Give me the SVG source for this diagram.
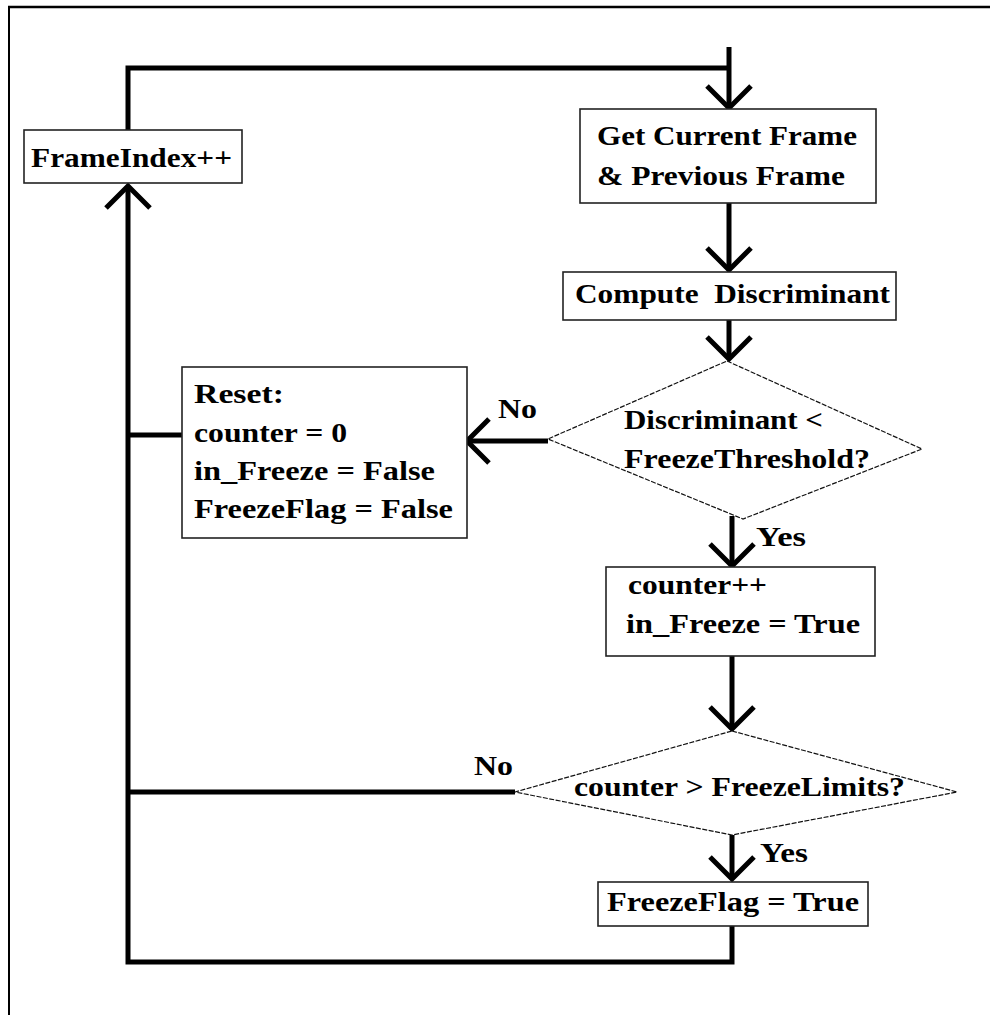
<svg xmlns="http://www.w3.org/2000/svg" width="990" height="1015" viewBox="0 0 990 1015">
  <defs>
    <style>
      .box { fill: #fff; stroke: #222; stroke-width: 1.6; }
      .dec { fill: #fff; stroke: #111; stroke-width: 1.2; stroke-dasharray: 5 1.5; }
      .wire { fill: none; stroke: #000; stroke-width: 5; stroke-linejoin: miter; }
      .lbl { font-family: "Liberation Serif", "Times New Roman", serif; font-weight: bold; font-size: 27px; fill: #000; white-space: pre; }
    </style>
    <marker id="chev" viewBox="-26 -26 32 52" refX="0" refY="0" markerWidth="32" markerHeight="52" markerUnits="userSpaceOnUse" orient="auto">
      <path d="M-22,-22 L0,0 L-22,22" fill="none" stroke="#000" stroke-width="5"/>
    </marker>
  </defs>

  <rect width="990" height="1015" fill="#fff"/>
  <!-- frame edges -->
  <line x1="8" y1="7" x2="990" y2="7" stroke="#000" stroke-width="2.5"/>
  <line x1="9" y1="6" x2="9" y2="1015" stroke="#000" stroke-width="2"/>

  <!-- connectors -->
  <g id="connectors" class="wire">
    <polyline points="128,130 128,68 729,68"/>
    <line x1="729" y1="47" x2="729" y2="108" marker-end="url(#chev)"/>
    <line x1="729" y1="203" x2="729" y2="270" marker-end="url(#chev)"/>
    <line x1="729" y1="320" x2="729" y2="359" marker-end="url(#chev)"/>
    <line x1="548" y1="441" x2="467" y2="441" marker-end="url(#chev)"/>
    <line x1="182" y1="435" x2="128" y2="435"/>
    <line x1="732" y1="516" x2="732" y2="566" marker-end="url(#chev)"/>
    <line x1="732" y1="656" x2="732" y2="729" marker-end="url(#chev)"/>
    <line x1="515" y1="792" x2="128" y2="792"/>
    <line x1="732" y1="835" x2="732" y2="879" marker-end="url(#chev)"/>
    <polyline points="732,926 732,962 128,962 128,186" marker-end="url(#chev)"/>
  </g>

  <g id="frame-index">
    <rect class="box" x="24" y="130" width="218" height="53"/>
    <text class="lbl" x="31" y="167" textLength="201" lengthAdjust="spacingAndGlyphs">FrameIndex++</text>
  </g>

  <g id="get-frames">
    <rect class="box" x="580" y="109" width="296" height="94"/>
    <text class="lbl" x="597" y="145" textLength="260" lengthAdjust="spacingAndGlyphs">Get Current Frame</text>
    <text class="lbl" x="597" y="185" textLength="248" lengthAdjust="spacingAndGlyphs">&amp; Previous Frame</text>
  </g>

  <g id="compute">
    <rect class="box" x="563" y="272" width="333" height="48"/>
    <text class="lbl" x="575" y="303" textLength="315" lengthAdjust="spacingAndGlyphs">Compute  Discriminant</text>
  </g>

  <g id="threshold-check">
    <polygon class="dec" points="727,361 922,449 743,519 548,439"/>
    <text class="lbl" x="624" y="429" textLength="199" lengthAdjust="spacingAndGlyphs">Discriminant &lt;</text>
    <text class="lbl" x="624" y="468" textLength="246" lengthAdjust="spacingAndGlyphs">FreezeThreshold?</text>
    <text class="lbl" x="498" y="418" textLength="39" lengthAdjust="spacingAndGlyphs">No</text>
    <text class="lbl" x="756" y="546" textLength="50" lengthAdjust="spacingAndGlyphs">Yes</text>
  </g>

  <g id="reset">
    <rect class="box" x="182" y="367" width="285" height="171"/>
    <text class="lbl" x="194" y="403" textLength="90" lengthAdjust="spacingAndGlyphs">Reset:</text>
    <text class="lbl" x="194" y="442" textLength="153" lengthAdjust="spacingAndGlyphs">counter = 0</text>
    <text class="lbl" x="194" y="480" textLength="241" lengthAdjust="spacingAndGlyphs">in_Freeze = False</text>
    <text class="lbl" x="194" y="518" textLength="259" lengthAdjust="spacingAndGlyphs">FreezeFlag = False</text>
  </g>

  <g id="count">
    <rect class="box" x="606" y="567" width="269" height="89"/>
    <text class="lbl" x="628" y="594" textLength="139" lengthAdjust="spacingAndGlyphs">counter++</text>
    <text class="lbl" x="626" y="633" textLength="234" lengthAdjust="spacingAndGlyphs">in_Freeze = True</text>
  </g>

  <g id="limit-check">
    <polygon class="dec" points="732,731 957,792 732,835 515,792"/>
    <text class="lbl" x="574" y="796" textLength="331" lengthAdjust="spacingAndGlyphs">counter &gt; FreezeLimits?</text>
    <text class="lbl" x="474" y="775" textLength="39" lengthAdjust="spacingAndGlyphs">No</text>
    <text class="lbl" x="760" y="862" textLength="48" lengthAdjust="spacingAndGlyphs">Yes</text>
  </g>

  <g id="set-flag">
    <rect class="box" x="598" y="882" width="270" height="44"/>
    <text class="lbl" x="607" y="911" textLength="252" lengthAdjust="spacingAndGlyphs">FreezeFlag = True</text>
  </g>
</svg>
